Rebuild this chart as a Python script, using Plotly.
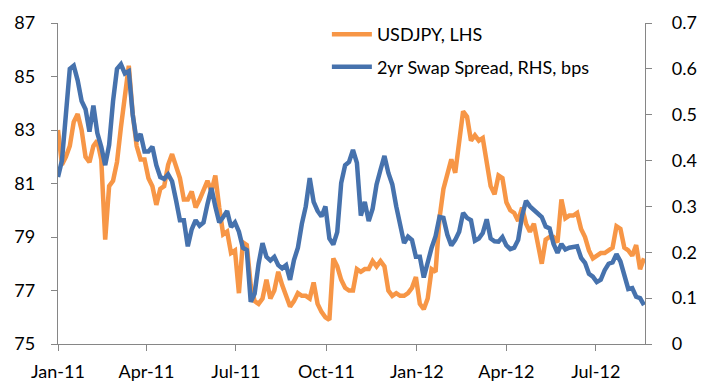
import pandas as pd
import plotly.graph_objects as go

# Data (sampled every 4 days from 1 Jan 2011)
start_date = "2011-01-01"
step_days = 4

usdjpy = [
    83.0, 81.7, 82.0, 82.4, 83.3, 83.6, 83.0, 82.0, 81.8, 82.4,
    82.6, 81.9, 78.9, 80.9, 81.1, 81.8, 83.1, 84.2, 85.4, 83.6,
    82.4, 81.9, 81.9, 81.2, 80.9, 80.2, 80.8, 80.9, 81.7, 82.1,
    81.6, 81.2, 80.4, 80.4, 80.7, 80.1, 80.4, 80.8, 81.1, 80.7,
    81.3, 80.1, 79.1, 79.2, 78.4, 78.5, 76.9, 78.8, 78.7, 77.2,
    76.6, 76.5, 76.7, 77.4, 76.7, 77.0, 77.7, 77.2, 76.8, 76.4,
    76.6, 76.9, 76.8, 76.8, 76.7, 77.3, 76.5, 76.2, 76.0, 75.9,
    78.2, 77.9, 77.4, 77.1, 77.0, 77.0, 77.8, 77.7, 77.8, 77.8,
    78.1, 77.9, 78.1, 77.9, 77.0, 76.8, 76.9, 76.8, 76.8, 76.9,
    77.1, 77.5, 76.5, 76.3, 76.7, 77.8, 77.7, 79.7, 80.8, 81.3,
    81.9, 81.4, 82.6, 83.7, 83.5, 82.6, 82.8, 82.6, 82.7, 81.9,
    80.9, 80.6, 81.3, 81.2, 80.3, 80.0, 79.9, 79.6, 80.1, 79.5,
    79.2, 79.5, 78.8, 78.0, 78.9, 79.0, 79.0, 78.8, 80.4, 79.7,
    79.8, 79.8, 79.9, 79.3, 79.0, 78.5, 78.2, 78.3, 78.4, 78.4,
    78.5, 78.6, 79.4, 79.3, 78.6, 78.5, 78.3, 78.7, 77.8, 78.2,
]

swap_spread = [
    0.364, 0.40, 0.50, 0.60, 0.607, 0.575, 0.530, 0.512, 0.463, 0.52,
    0.46, 0.43, 0.39, 0.434, 0.53, 0.600, 0.610, 0.59, 0.595, 0.50,
    0.443, 0.458, 0.42, 0.42, 0.43, 0.39, 0.364, 0.36, 0.37, 0.355,
    0.314, 0.27, 0.27, 0.213, 0.25, 0.270, 0.258, 0.265, 0.305, 0.34,
    0.30, 0.265, 0.277, 0.29, 0.255, 0.265, 0.245, 0.21, 0.205, 0.092,
    0.11, 0.175, 0.22, 0.19, 0.182, 0.19, 0.172, 0.165, 0.172, 0.14,
    0.183, 0.21, 0.262, 0.30, 0.362, 0.31, 0.29, 0.278, 0.30, 0.23,
    0.217, 0.244, 0.351, 0.39, 0.397, 0.423, 0.395, 0.28, 0.31, 0.268,
    0.295, 0.348, 0.38, 0.41, 0.373, 0.348, 0.30, 0.265, 0.22, 0.234,
    0.227, 0.19, 0.19, 0.145, 0.182, 0.21, 0.235, 0.277, 0.275, 0.238,
    0.215, 0.227, 0.245, 0.286, 0.275, 0.27, 0.225, 0.23, 0.242, 0.272,
    0.23, 0.224, 0.223, 0.233, 0.215, 0.207, 0.21, 0.227, 0.28, 0.312,
    0.30, 0.292, 0.284, 0.277, 0.256, 0.252, 0.218, 0.199, 0.218, 0.206,
    0.21, 0.212, 0.213, 0.188, 0.177, 0.153, 0.147, 0.135, 0.14, 0.161,
    0.175, 0.178, 0.196, 0.18, 0.145, 0.12, 0.122, 0.103, 0.10, 0.085,
]

tick_dates = ["2011-01-01", "2011-04-01", "2011-07-01", "2011-10-01",
              "2012-01-01", "2012-04-01", "2012-07-01"]
tick_labels = ["Jan-11", "Apr-11", "Jul-11", "Oct-11", "Jan-12", "Apr-12", "Jul-12"]

dates = pd.date_range(start_date, periods=len(usdjpy), freq=f"{step_days}D")

ORANGE = "#F79646"
BLUE = "#4672AD"
AXIS = "#868686"
FONT = "Lato"

fig = go.Figure()
fig.add_trace(go.Scatter(x=dates, y=usdjpy, name="USDJPY, LHS", mode="lines",
                         line=dict(color=ORANGE, width=4.5), legendgroup="a"))
fig.add_trace(go.Scatter(x=dates, y=swap_spread, name="2yr Swap Spread, RHS, bps",
                         mode="lines", line=dict(color=BLUE, width=4.5),
                         yaxis="y2", legendgroup="b"))

fig.update_layout(
    width=706, height=391,
    margin=dict(l=58, r=61, t=23, b=47, autoexpand=False),
    paper_bgcolor="white", plot_bgcolor="white",
    font=dict(family=FONT, size=18, color="black"),
    showlegend=True,
    legend=dict(xref="container", yref="container",
                x=0.463, y=0.959, xanchor="left", yanchor="top",
                bgcolor="rgba(0,0,0,0)", font=dict(size=18),
                itemwidth=40, tracegroupgap=6),
    xaxis=dict(
        type="date", range=["2011-01-01", "2012-08-20"],
        tickmode="array", tickvals=tick_dates, ticktext=tick_labels,
        showline=True, linecolor=AXIS, linewidth=1.3,
        ticks="outside", ticklen=6, tickcolor=AXIS,
        showgrid=False, zeroline=False, ticklabelstandoff=5,
        automargin=False,
    ),
    yaxis=dict(
        range=[75, 87], tick0=75, dtick=2,
        showline=True, linecolor=AXIS, linewidth=1.3,
        ticks="outside", ticklen=6, tickcolor=AXIS,
        showgrid=False, zeroline=False, ticklabelstandoff=12,
        automargin=False,
    ),
    yaxis2=dict(
        range=[0, 0.7], tick0=0, dtick=0.1, overlaying="y", side="right",
        showline=True, linecolor=AXIS, linewidth=1.3,
        ticks="outside", ticklen=6, tickcolor=AXIS,
        showgrid=False, zeroline=False, ticklabelstandoff=16,
        automargin=False,
    ),
)

fig.write_html("out.html",
               config={"displayModeBar": False},
               post_script="document.body.style.margin='0';document.body.style.overflow='hidden';")
